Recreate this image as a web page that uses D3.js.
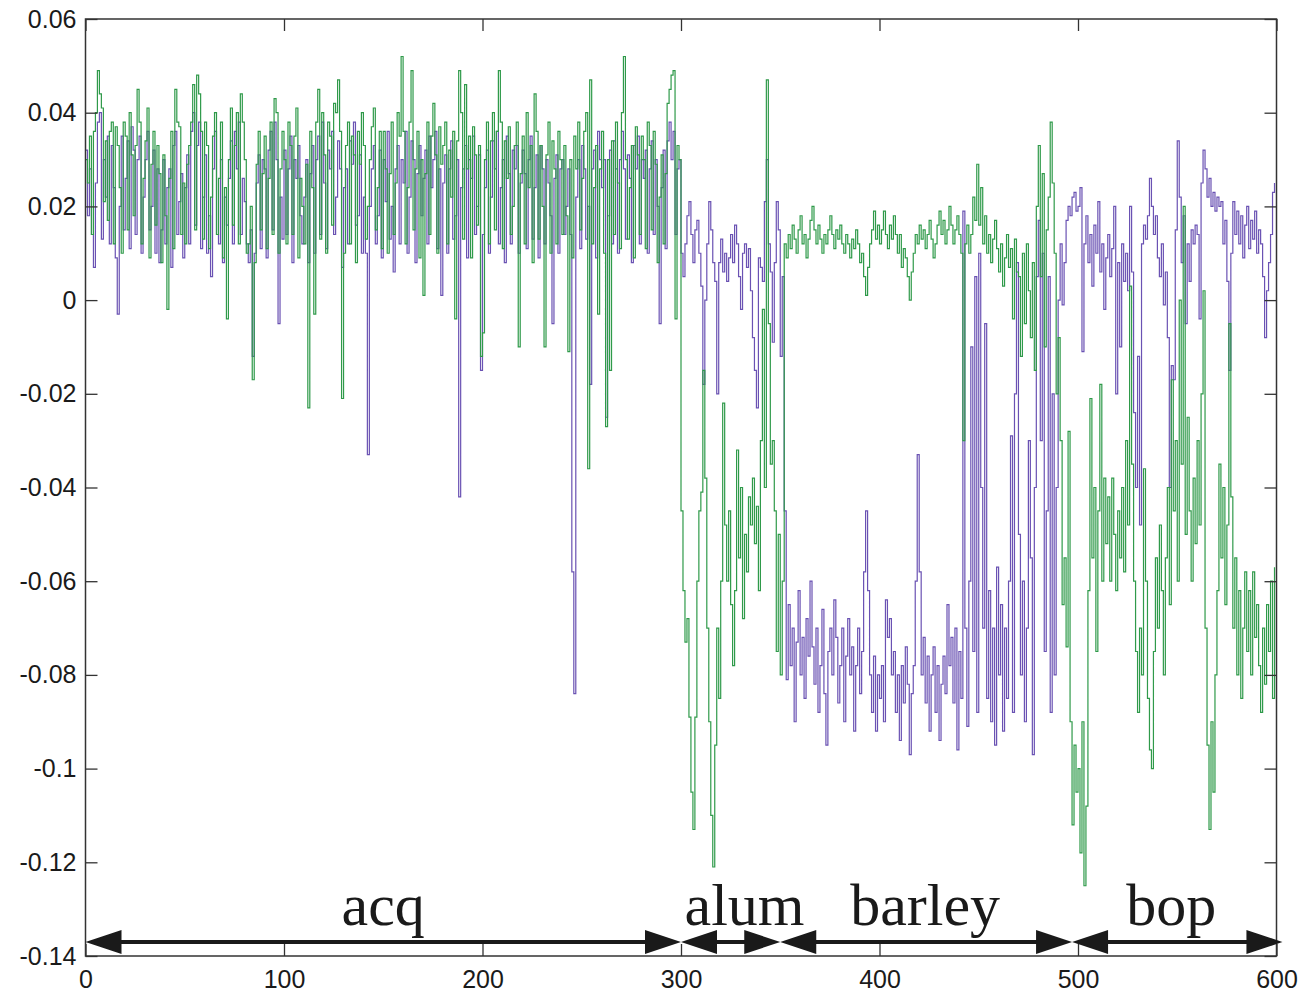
<!DOCTYPE html>
<html lang="en">
<head>
<meta charset="utf-8">
<title>Two-series step plot over acq / alum / barley / bop</title>
<script src="https://d3js.org/d3.v7.min.js"></script>
<style>
  body { margin: 0; background: #fff; }
  .tick text { font-family: "Liberation Sans", Arial, sans-serif; font-size: 25px; fill: #1a1a1a; }
  .seg-label { font-family: "Liberation Serif", "Times New Roman", serif; font-size: 60px; fill: #1a1a1a; }
</style>
</head>
<body>
<div id="chart"></div>
<script>
// values are in thousandths (0.001), one per sample index

// green series
var greenAcq = [
  30, 25, 35, 14, 36, 40, 49, 44, 41, 21,   34, 17, 36, 38, 12, 37, 33, 24, 10, 38,
  35, 15, 40, 31, 18, 33, 45, 38, 12, 26,   34, 41, 9, 29, 36, 16, 33, 27, 8, 31,
  18, -2, 26, 36, 11, 45, 38, 37, 14, 25,   12, 29, 33, 38, 46, 15, 48, 44, 36, 13,
  38, 33, 11, 22, 35, 40, 14, 26, 38, 9,    24, -4, 30, 41, 16, 33, 40, 12, 44, 38,
  30, 10, 12, 20, -17, 8, 29, 36, 15, 27,   35, 11, 26, 38, 14, 43, 40, 10, 28, 36,
  30, 12, 38, 33, 14, 35, 41, 9, 26, 20,    12, 29, -23, 36, 24, -3, 38, 45, 13, 40,
  31, 10, 38, 35, 16, 42, 40, 47, 36, -21,  10, 33, 38, 12, 35, 31, 8, 36, 29, 40,
  33, 13, 20, 30, 37, 41, 15, 24, 36, 11,   36, 28, 10, 27, 38, 14, 25, 40, 35, 52,
  36, 12, 24, 38, 49, 15, 28, 36, 9, 30,    1, 27, 38, 14, 35, 42, 31, 10, 37, 29,
  33, 38, 12, 32, 22, 36, -4, 34, 49, 40,   13, 46, 28, 35, 9, 37, 31, 16, 33, -12,
  -7, 30, 38, 12, 34, 40, 15, 36, 49, 38,   11, 34, 26, 37, 14, 20, 33, 38, -10, 27,
  35, 12, 40, 24, 33, 8, 44, 36, 13, 33,    20, -10, 31, 38, 10, 34, 28, 12, 36, 30,
  14, 33, 18, -11, 30, 9, 35, 28, 38, 15,   26, 36, 40, -36, 47, 12, 24, 33, -3, 28,
  36, 10, -27, 30, -15, 34, 14, 38, 25, 11, 40, 52, 30, 13, 24, 33, 9, 37, 31, 14,
  35, 30, 11, 38, 33, 15, 36, 29, 8, 22,    31, 12, 27, 42, 45, 48, 49, -4, 33, 30
];
var greenAlum = [
  -45, -62, -73, -68, -89, -105, -113, -89, -60, -45,
  -41, -15, -38, -70, -90, -110, -121, -95, -70, -85,
  -60, -22, -48, -60, -45, -65, -78, -62, -32, -55,
  -40, -68, -50, -58, -42, -48, -38, -52, -44, -62,
  -30, -2, -40, 47, -5, -35, -30, -45, -75, -50
];
var greenBarley = [
  -80, -60, 12,
  9, 14, 11, 16, 13, 10, 15, 18, 12, 14,   9, 13, 17, 20, 15, 12, 16, 13, 10, 14,
  12, 15, 18, 14, 11, 15, 13, 16, 12, 10,  14, 12, 9, 13, 11, 15, 12, 8, 10, 5,
  1, 7, 12, 15, 19, 13, 16, 12, 15, 19,    14, 11, 16, 13, 18, 14, 10, 14, 7, 11,
  9, 5, 0, 6, 10, 14, 12, 16, 13, 15,      11, 14, 17, 13, 9, 12, 16, 19, 14, 17,
  12, 15, 20, 16, 12, 15, 18, 14, 10,
  -30, 12, 16, 10, 14, 22, 17, 29, 16, 24, 12, 18, 10, 14, 8, 13, 17, 11, 6, 12,
  3, 9, 14, 7, 11, -4, 13, 6,
  5, -12, 10, -5, 12, 2, -8, 8, -15, 20,   33, 5, 27, -10, 15, 22, 38, 25, 10, -20,
  -8, -30, -65, -55, -74, -28, -90, -112, -95, -105
];
var greenBop = [
  -100, -118, -90, -125, -108, -62, -21, -55, -40, -75,
  -45, -18, -60, -38, -52, -42, -60, -38, -50, -62,
  -45, -55, -40, -58, -30, -48, 3, -35, -60, -75,
  -88, -70, -80, -36, -60, -85, -96, -100, -75, -55,
  -70, -48, -62, -80, -55, -40, -65, -17, -45, -30,
  -60, 0, -35, 20, -50, -25, -45, -60, -38, -52,
  -30, -48, -20, 2, -70, -95, -113, -90, -105, -80,
  -62, -35, -55, -40, -65, -48, -5, -42, -70, -55,
  -80, -62, -85, -70, -58, -75, -62, -80, -58, -72,
  -65, -78, -88, -70, -82, -65, -75, -60, -85, -57
];

// purple series
var purpleAcq = [
  32, 18, 28, 14, 7, 25, 38, 40, 13, 30,    22, 35, 12, 33, 24, 9, -3, 20, 35, 15,
  26, 34, 11, 37, 32, 14, 30, 35, 10, 22,   30, 36, 15, 20, 32, 10, 28, 8, 15, 30,
  12, 24, 28, 7, 33, 36, 14, 21, 27, 9,     24, 31, 12, 36, 40, 16, 33, 38, 11, 22,
  31, 10, 18, 5, 28, 36, 14, 12, 30, 8,     22, 16, 26, 34, 12, 36, 28, 38, 14, 26,
  21, 12, 8, 15, -12, 10, 25, 31, 11, 30,   28, 9, 32, 36, 15, 38, 30, -5, 22, 13,
  32, 14, 28, 35, 8, 30, 26, 33, 18, 12,    22, 30, 8, 27, 33, 10, 30, 35, 14, 38,
  25, 11, 32, 28, 36, 14, 22, 34, 28, 7,    24, 28, 12, 34, 29, 38, 16, 18, 31, 10,
  22, 10, -33, 20, 28, 33, 12, 18, 32, 9,   30, 21, 36, 13, 20, 6, 28, 33, 12, 30,
  25, 36, 10, 22, 34, 30, 8, 27, 33, 18,    26, 32, 12, 35, 24, 30, 36, 11, 28, 1,
  25, 31, 10, 28, 34, 13, 18, 30, -42, 24,  28, 33, 9, 30, 26, 35, 14, 20, 31, -15,
  14, 24, 32, 10, 22, 34, 28, 36, 12, 24,   30, 8, 35, 27, 12, 32, 28, 33, 10, 25,
  32, 27, 11, 30, 35, 13, 24, 31, 9, 33,    28, 12, 30, 25, 18, -5, 26, 31, 10, 28,
  30, 14, 20, 28, 14, -58, -84, 22, 30, 11, 33, 28, 13, 20, -18, 28, 32, 9, 36, 30,
  24, 30, -25, 18, 32, 12, 34, 28, 10, 30,  36, 28, 13, 31, 26, 8, 33, 28, 35, 12,
  30, 26, 32, 10, 28, 34, 14, 30, 20, -5,   24, 32, 11, 34, 38, 30, 36, 14, 28, 30
];
var purpleAlum = [
  10, 5, 12, 18, 21, 14, 8, 15, 17, 10,
  3, -18, 0, 12, 21, 15, 8, 4, -20, 8,
  13, 6, 10, 4, 9, 14, 8, 16, 12, 5,
  -2, 10, 12, 7, 11, 2, -8, -15, -23, 9,
  7, 4, 21, 30, 12, 6, -9, 8, 21, 15
];
var purpleBarley = [
  -12, 5, -45,
  -81, -65, -78, -70, -90, -73, -62, -80, -72, -85,
  -68, -76, -60, -74, -82, -70, -88, -78, -66, -84,
  -95, -75, -70, -80, -64, -72, -86, -78, -70, -90,
  -76, -68, -80, -74, -92, -78, -70, -84, -75, -58,
  -45, -62, -80, -88, -76, -92, -80, -85, -78, -90,
  -64, -72, -68, -80, -75, -88, -80, -94, -78, -86,
  -74, -82, -97, -84, -78, -60, -33, -58, -80, -72,
  -86, -76, -92, -80, -74, -88, -78, -94, -82, -76,
  -84, -65, -78, -72, -86, -70, -96,
  -75, -85, 19, -70, -91, -60, -10, -75, 5, -88,
  10, -40, -70, -5, -85, -62, -90, -70, -95, -57,
  -80, -65, -92, -70, -85, -60, -29, -88, -20, 8,
  -50, -80, -60, -90, -70, -30, -55, -97, -40, 5,
  17, -30, 10, -75, -45, 5, -88, -20, -80, -40,
  0, 12, -1, 8, 17, 20, 18, 22, 23, 19
];
var purpleBop = [
  20, 24, -11, 12, 18, 8, 14, 3, 16, 10,
  21, 6, 12, -2, 9, 14, 5, 11, 20, -20,
  8, -10, 12, 4, 10, 2, 20, 6, -24, -40,
  -12, -48, 12, 16, 13, 18, 26, 20, 14, 18,
  9, 5, 12, -1, 6, -8, -40, -14, -17, 15,
  34, 22, 8, 18, -5, 12, 4, 15, 12, 16,
  14, -4, 25, 32, 28, 22, 26, 20, 23, 19,
  22, 20, 21, 12, 17, 4, -15, 10, 21, 14,
  19, 12, 18, 9, 16, 20, 11, 17, 13, 19,
  10, 15, 12, 5, -8, 2, 8, 14, 23, 25
];

// axes
var xTicks = [0, 100, 200, 300, 400, 500, 600];
var yTicks = [0.06, 0.04, 0.02, 0, -0.02, -0.04, -0.06, -0.08, -0.1, -0.12, -0.14];
var yTickLabels = ["0.06", "0.04", "0.02", "0", "-0.02", "-0.04", "-0.06", "-0.08", "-0.1", "-0.12", "-0.14"];

// dataset segments shown under the curves (sample index ranges)
var segNames = ["acq", "alum", "barley", "bop"];
var segFrom  = [0, 300, 350, 497];
var segTo    = [300, 350, 497, 603];
var segTextAt = [150, 332, 423, 547];

var green = greenAcq.concat(greenAlum, greenBarley, greenBop);
var purple = purpleAcq.concat(purpleAlum, purpleBarley, purpleBop);

var W = 1303, H = 995;
var margin = {top: 19, right: 26.5, bottom: 39, left: 85.5};
var width = W - margin.left - margin.right,
    height = H - margin.top - margin.bottom;

var svg = d3.select("#chart").append("svg")
    .attr("width", W)
    .attr("height", H)
    .style("display", "block")
  .append("g")
    .attr("transform", "translate(" + margin.left + "," + margin.top + ")");

var x = d3.scaleLinear().domain([0, 600]).range([0, width]);
var y = d3.scaleLinear().domain([-0.14, 0.06]).range([height, 0]);

// the curves
var line = d3.line()
    .x(function(d, i) { return x(i); })
    .y(function(d) { return y(d / 1000); })
    .curve(d3.curveStepAfter);

svg.append("path")
    .datum(purple)
    .attr("fill", "none")
    .attr("stroke", "#6a52b3")
    .attr("stroke-width", 1.2)
    .attr("d", line);

svg.append("path")
    .datum(green)
    .attr("fill", "none")
    .attr("stroke", "#2f9a4a")
    .attr("stroke-width", 1.2)
    .attr("d", line);

// box and inward ticks on all four sides
var tick = 12;
svg.append("g")
    .attr("transform", "translate(0," + height + ")")
    .call(d3.axisBottom(x).tickValues(xTicks).tickSizeInner(-tick).tickSizeOuter(0).tickPadding(14))
    .call(function(g) { g.select(".domain").remove(); });

svg.append("g")
    .call(d3.axisLeft(y).tickValues(yTicks).tickFormat(function(d, i) { return yTickLabels[i]; })
      .tickSizeInner(-tick).tickSizeOuter(0).tickPadding(9))
    .call(function(g) { g.select(".domain").remove(); });

svg.append("g")
    .call(d3.axisTop(x).tickValues(xTicks).tickFormat("").tickSizeInner(-tick).tickSizeOuter(0))
    .call(function(g) { g.select(".domain").remove(); });

svg.append("g")
    .attr("transform", "translate(" + width + ",0)")
    .call(d3.axisRight(y).tickValues(yTicks).tickFormat("").tickSizeInner(-tick).tickSizeOuter(0))
    .call(function(g) { g.select(".domain").remove(); });

svg.selectAll(".tick line").attr("stroke", "#333").attr("stroke-width", 1.3);

svg.append("rect")
    .attr("width", width)
    .attr("height", height)
    .attr("fill", "none")
    .attr("stroke", "#333")
    .attr("stroke-width", 1.5);

// double-headed arrows with dataset names
var ay = height - 14, headLen = 36, headHalf = 12;
var ann = svg.append("g");
segNames.forEach(function(name, i) {
  var a = x(segFrom[i]), b = x(segTo[i]);
  ann.append("line")
      .attr("x1", a + headLen - 2).attr("x2", b - headLen + 2)
      .attr("y1", ay).attr("y2", ay)
      .attr("stroke", "#1a1a1a").attr("stroke-width", 4);
  ann.append("path")
      .attr("d", "M" + a + "," + ay + "L" + (a + headLen) + "," + (ay - headHalf) + "L" + (a + headLen) + "," + (ay + headHalf) + "Z")
      .attr("fill", "#1a1a1a");
  ann.append("path")
      .attr("d", "M" + b + "," + ay + "L" + (b - headLen) + "," + (ay - headHalf) + "L" + (b - headLen) + "," + (ay + headHalf) + "Z")
      .attr("fill", "#1a1a1a");
  ann.append("text")
      .attr("class", "seg-label")
      .attr("x", x(segTextAt[i]))
      .attr("y", ay - 17)
      .attr("text-anchor", "middle")
      .text(name);
});
</script>
</body>
</html>
